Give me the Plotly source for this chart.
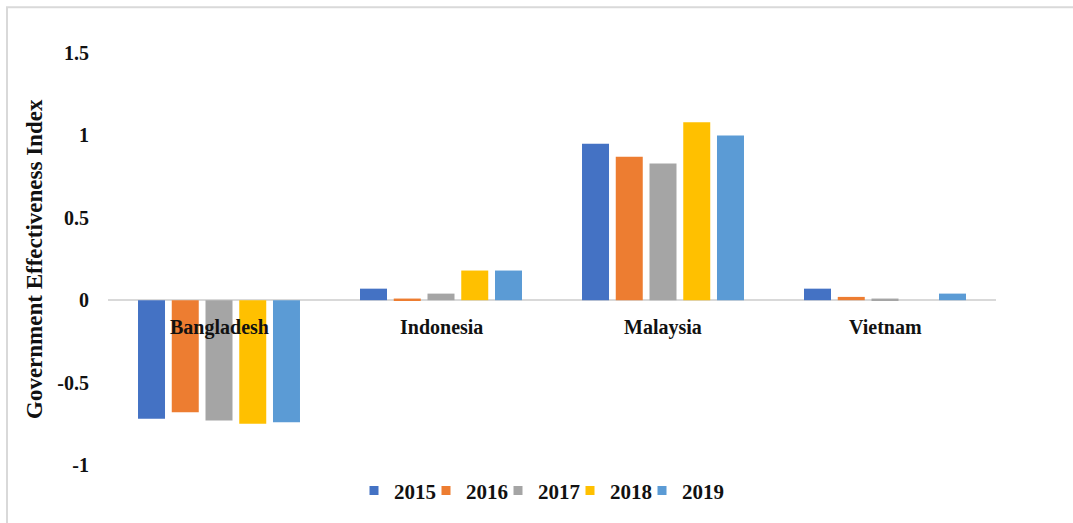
import plotly.graph_objects as go

countries = ["Bangladesh", "Indonesia", "Malaysia", "Vietnam"]
years = ["2015", "2016", "2017", "2018", "2019"]
v2015 = [-0.72, 0.07, 0.95, 0.07]
v2016 = [-0.68, 0.01, 0.87, 0.02]
v2017 = [-0.73, 0.04, 0.83, 0.01]
v2018 = [-0.75, 0.18, 1.08, 0.00]
v2019 = [-0.74, 0.18, 1.00, 0.04]
series = [v2015, v2016, v2017, v2018, v2019]
colors = ["#4472C4", "#ED7D31", "#A5A5A5", "#FFC000", "#5B9BD5"]

tick_vals = [-1, -0.5, 0, 0.5, 1, 1.5]
tick_text = ["-1", "-0.5", "0", "0.5", "1", "1.5"]

W, H = 1073, 523
L, R, T, B = 108, 77, 53, 56
pw, ph = W - L - R, H - T - B

def px_x(x):
    return (x - L) / pw

def px_y(y):
    return (H - B - y) / ph

serif = "Liberation Serif, Times New Roman, serif"
dark = "#111111"

fig = go.Figure()
for yr, vals, c in zip(years, series, colors):
    fig.add_trace(go.Bar(name=yr, x=countries, y=vals, showlegend=False,
                         marker=dict(color=c, line=dict(width=0))))
# legend entries with small square swatches
for yr, c in zip(years, colors):
    fig.add_trace(go.Scatter(name=yr, x=[None], y=[None], mode="markers",
                             marker=dict(symbol="square", size=9, color=c)))
# invisible spacer entry so the last label is not clipped
fig.add_trace(go.Scatter(name=" ", x=[None], y=[None], mode="markers",
                         marker=dict(symbol="square", size=9, color="rgba(0,0,0,0)")))

annotations = []
for c in countries:
    annotations.append(dict(x=c, y=0, xref="x", yref="y", text=c, showarrow=False,
                            yanchor="top", yshift=-14,
                            font=dict(family=serif, size=20, color=dark, weight="bold")))
annotations.append(dict(x=px_x(34), y=0.5, xref="paper", yref="paper",
                        text="Government Effectiveness Index", textangle=-90, showarrow=False,
                        xanchor="center", yanchor="middle",
                        font=dict(family=serif, size=23, color=dark, weight="bold")))

fig.update_layout(
    width=W, height=H,
    margin=dict(l=L, r=R, t=T, b=B),
    paper_bgcolor="white", plot_bgcolor="white",
    barmode="group", bargap=0.24, bargroupgap=0.2,
    showlegend=True,
    legend=dict(orientation="h", x=px_x(354), xanchor="left", y=px_y(493), yanchor="middle",
                font=dict(family=serif, size=21, color=dark, weight="bold"),
                itemwidth=30, traceorder="normal",
                entrywidth=27, entrywidthmode="pixels"),
    annotations=annotations,
    shapes=[dict(type="rect", xref="paper", yref="paper",
                 x0=px_x(7), x1=px_x(1090), y0=px_y(540), y1=px_y(7),
                 line=dict(color="#d9d9d9", width=2), fillcolor="rgba(0,0,0,0)", layer="below")],
)
fig.update_xaxes(showticklabels=False, showgrid=False, zeroline=False, showline=False, ticks="")
fig.update_yaxes(range=[-1, 1.5], tickvals=tick_vals, ticktext=tick_text,
                 showgrid=False, zeroline=True, zerolinecolor="#d9d9d9", zerolinewidth=1.5,
                 showline=False, ticks="", ticklabelstandoff=18,
                 tickfont=dict(family=serif, size=20, color=dark, weight="bold"))

fig.write_html("out.html")
